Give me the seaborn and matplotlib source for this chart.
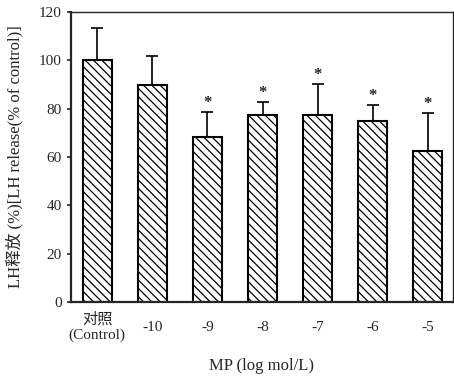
import numpy as np
import pandas as pd
import matplotlib
matplotlib.use('Agg')
import matplotlib.pyplot as plt
import seaborn as sns

# values
groups = ['对照\n(Control)', '-10', '-9', '-8', '-7', '-6', '-5']
lh_release = [100.0, 89.8, 68.4, 77.6, 77.4, 74.8, 62.4]
sd_upper = [13.4, 12.1, 10.3, 5.1, 12.8, 6.7, 15.9]
significant = [False, False, True, True, True, True, True]

sns.set_style('ticks')
plt.rcParams['font.family'] = ['Liberation Serif', 'Noto Sans CJK SC']
plt.rcParams['hatch.linewidth'] = 0.9
plt.rcParams['hatch.color'] = 'black'

df = pd.DataFrame({'group': groups, 'value': lh_release})

fig = plt.figure(figsize=(4.54, 3.78), dpi=100)
ax = fig.add_axes([0.156, 0.201, 0.842, 0.767])

sns.barplot(data=df, x='group', y='value', color='white', width=0.53,
            edgecolor='black', linewidth=1.5, ax=ax, errorbar=None,
            hatch='\\\\\\\\')

x = np.arange(len(groups))
vals = np.array(lh_release)
err = np.array(sd_upper)
ax.errorbar(x, vals, yerr=[np.zeros_like(err), err], fmt='none',
            ecolor='black', elinewidth=1.2, capsize=4, capthick=1.2, zorder=3)

for i, sig in enumerate(significant):
    if sig:
        ax.text(x[i], vals[i] + err[i] + 0.5, '*', ha='center', va='bottom',
                fontsize=12, fontweight='bold')

ax.set_ylim(0, 120)
ax.set_xlim(-0.48, 6.46)
ax.set_yticks(range(0, 121, 20))
ax.tick_params(axis='y', direction='out', length=3, width=1.2, labelsize=11)
ax.tick_params(axis='x', length=0, labelsize=11, pad=18)
for lab in ax.get_xticklabels():
    lab.set_va('center')
    lab.set_linespacing(1.1)

for s in ['left', 'bottom']:
    ax.spines[s].set_linewidth(1.6)
for s in ['top', 'right']:
    ax.spines[s].set_linewidth(1.0)

ax.set_xlabel('MP (log mol/L)', fontsize=12, labelpad=12)
ax.set_ylabel('LH释放 (%)[LH release(% of control)]', fontsize=12, labelpad=11)

fig.savefig('out.png', dpi=100)
